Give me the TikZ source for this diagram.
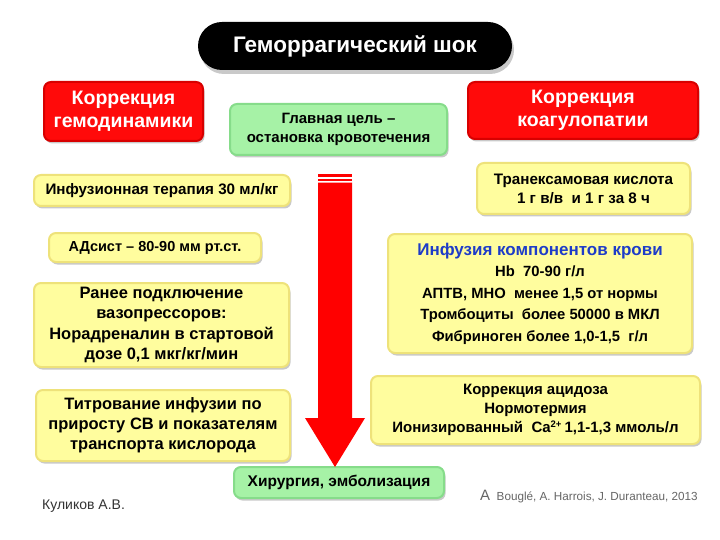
\documentclass[tikz,border=0pt]{standalone}
\usepackage{fontspec}
\setmainfont{Liberation Sans}
\usetikzlibrary{shadows}
\definecolor{ylw}{HTML}{FFFD9E}
\definecolor{ylwedge}{HTML}{EEE27A}
\definecolor{grn}{HTML}{A6F2A6}
\definecolor{grnedge}{HTML}{86DC8A}
\definecolor{rd}{HTML}{FF0A0A}
\definecolor{rdedge}{HTML}{D80000}
\definecolor{blu}{HTML}{1E3CC8}
\tikzset{
  box/.style={rectangle, rounded corners=7pt, align=center, font=\bfseries\fontsize{15}{20}\selectfont,
    inner sep=2pt, drop shadow={shadow xshift=1.5pt, shadow yshift=-2.5pt, opacity=0.35, fill=black!60}},
  ybox/.style={box, fill=ylw, draw=ylwedge, line width=2pt},
  gbox/.style={box, fill=grn, draw=grnedge, line width=2pt},
  rbox/.style={box, fill=rd, draw=rdedge, line width=2pt, text=white, font=\bfseries\fontsize{19.5}{23}\selectfont},
}
\begin{document}
\begin{tikzpicture}[x=1pt,y=-1pt]
\useasboundingbox[fill=white] (0,0) rectangle (720,540);
% title
\node[rectangle, rounded corners=24pt, fill=black, text=white, minimum width=314pt, minimum height=48pt,
  font=\bfseries\fontsize{22.5}{26}\selectfont,
  drop shadow={shadow xshift=2pt, shadow yshift=-4pt, opacity=0.35, fill=black!60}] (title) at (355,46) {Геморрагический шок};
% red headers
\node[rbox, minimum width=159pt, minimum height=59pt] (rl) at (123.5,111.5) {Коррекция\\гемодинамики};
\node[rbox, minimum width=230pt, minimum height=57pt] (rr) at (583,110.5) {Коррекция\\коагулопатии};
% green
\node[gbox, minimum width=217pt, minimum height=51pt, font=\bfseries\fontsize{15}{19}\selectfont] (goal) at (338.5,129.5) {Главная цель –\\остановка кровотечения};
\node[gbox, minimum width=210pt, minimum height=31pt, font=\bfseries\fontsize{15.5}{19}\selectfont] (surg) at (339,482.5) {Хирургия, эмболизация};
% left yellow
\node[ybox, minimum width=256pt, minimum height=31pt, font=\bfseries\fontsize{15.2}{19}\selectfont] (inf) at (162,190.5) {Инфузионная терапия 30 мл/кг};
\node[ybox, minimum width=212pt, minimum height=29pt, font=\bfseries\fontsize{14.5}{19}\selectfont] (ad) at (155,247.5) {АДсист – 80-90 мм рт.ст.};
\node[ybox, minimum width=255pt, minimum height=84pt, font=\bfseries\fontsize{16.5}{20.5}\selectfont] (vaso) at (161.5,325) {Ранее подключение\\вазопрессоров:\\Норадреналин в стартовой\\дозе 0,1 мкг/кг/мин};
\node[ybox, minimum width=254pt, minimum height=71pt, font=\bfseries\fontsize{16.5}{20}\selectfont] (titr) at (163,425.5) {Титрование инфузии по\\приросту СВ и показателям\\транспорта кислорода};
% right yellow
\node[ybox, minimum width=213pt, minimum height=51pt, font=\bfseries\fontsize{15.2}{19}\selectfont] (tran) at (583.5,188.5) {Транексамовая кислота\\1 г в/в \ и 1 г за 8 ч};
\node[ybox, minimum width=304pt, minimum height=119pt, font=\bfseries\fontsize{14.8}{21.5}\selectfont] (blood) at (540,293.5)
  {{\color{blu}\fontsize{17}{21.5}\selectfont Инфузия компонентов крови}\\Hb \ 70-90 г/л\\АПТВ, МНО \ менее 1,5 от нормы\\Тромбоциты \ более 50000 в МКЛ\\Фибриноген более 1,0-1,5 \ г/л};
\node[ybox, minimum width=329pt, minimum height=68pt, font=\bfseries\fontsize{15}{19}\selectfont] (acid) at (535.5,410) {Коррекция ацидоза\\Нормотермия\\Ионизированный \ Ca\textsuperscript{\fontsize{9.5}{9.5}\selectfont 2+}\,1,1-1,3 ммоль/л};
% arrow
\coordinate (atop) at (335,174);
\fill[red] (318,174) rectangle (352,176.7);
\fill[red] (318,178.7) rectangle (352,181);
\fill[red] (318,182.7) -- (352,182.7) -- (352,418) -- (365,418) -- (335,467) -- (305,418) -- (318,418) -- cycle;
% authors
\node[anchor=base west, font=\fontsize{14}{16}\selectfont, text=black!80, inner sep=0] (kul) at (42,509) {Куликов А.В.};
\node[anchor=base west, font=\fontsize{11.7}{13}\selectfont, text=black!60, inner sep=0] (boug) at (480,500) {{\fontsize{15}{15}\selectfont A} \ Bouglé, A. Harrois, J. Duranteau, 2013};
\end{tikzpicture}
\end{document}
